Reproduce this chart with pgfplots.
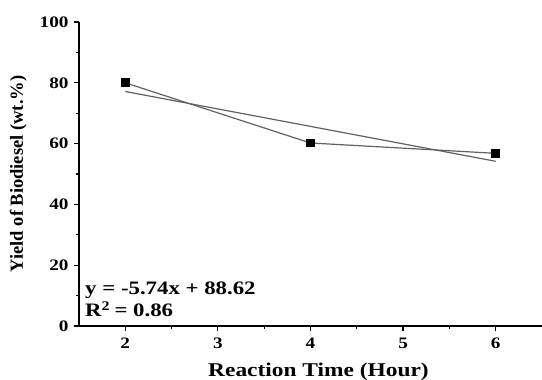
\documentclass[border=0pt]{standalone}
\usepackage{fontspec}
\setmainfont{Liberation Serif}[FakeStretch=1.2]
\newfontfamily\plainserif{Liberation Serif}
\usepackage{pgfplots}
\pgfplotsset{compat=1.18}
\begin{document}
\begin{tikzpicture}
\begin{axis}[
  scale only axis,
  width=463pt, height=304pt,
  xmin=1.5, xmax=6.5, ymin=0, ymax=100,
  axis x line=bottom, axis y line=left,
  axis line style={-, line width=1.4pt, black},
  xtick={2,3,4,5,6}, ytick={0,20,40,60,80,100},
  minor xtick={2.5,3.5,4.5,5.5}, minor ytick={10,30,50,70,90},
  tick align=outside, major tick length=5pt, minor tick length=3pt,
  tick style={line width=1.2pt, black},
  /pgf/number format/assume math mode=true,
  ticklabel style={font=\bfseries\fontsize{16}{16}\selectfont},
  yticklabel style={xshift=-2pt},
  xticklabel style={yshift=-3pt},
  xlabel={Reaction Time (Hour)},
  ylabel={Yield of Biodiesel (wt.\%)},
  xlabel style={font=\bfseries\fontsize{19.5}{19.5}\selectfont, yshift=-8pt, xshift=8pt},
  ylabel style={font=\plainserif\bfseries\fontsize{18.5}{18.5}\selectfont, yshift=6pt},
  clip=false,
]
\addplot[color=black!62, line width=1.2pt, mark=square*, mark size=3.8pt, mark options={fill=black, draw=black}]
  coordinates {(2,80) (4,60.2) (6,56.8)};
\addplot[color=black!62, line width=1.2pt]
  coordinates {(2,77.14) (6,54.18)};
\node[anchor=base west, font=\bfseries\fontsize{19}{19}\selectfont, inner sep=0pt] at (axis cs:1.565,10.2) {y = -5.74x + 88.62};
\node[anchor=base west, font=\bfseries\fontsize{19}{19}\selectfont, inner sep=0pt] at (axis cs:1.565,3.0) {R$^{\mathbf{2}}$ = 0.86};
\end{axis}
\pgfresetboundingbox
\path (current axis.origin) ++(-79pt,-54pt) rectangle ++(542pt,380pt);
\end{tikzpicture}
\end{document}
